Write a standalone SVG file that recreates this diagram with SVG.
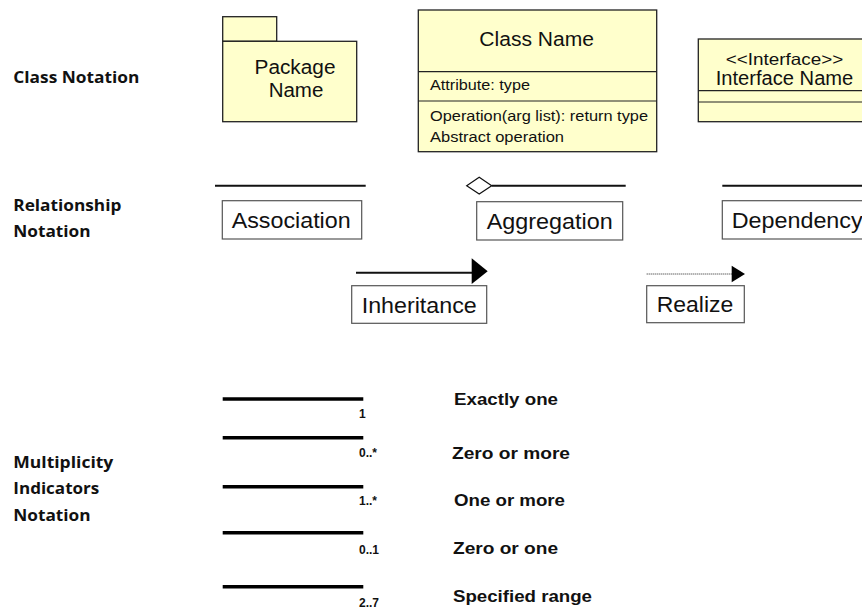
<svg xmlns="http://www.w3.org/2000/svg" width="862" height="609" viewBox="0 0 862 609">
<style>
.uml{fill:#FFFFCC;stroke:#222;stroke-width:1.3}
.div{stroke:#222;stroke-width:1.2}
.lbl{fill:#fff;stroke:#555;stroke-width:1.2}
.t{font-family:"Liberation Sans",Arial,sans-serif;fill:#111}
.c{text-anchor:middle}
.sec{font-family:"Open Sans","Liberation Sans",sans-serif;font-weight:bold;font-size:16px;fill:#111}
.b{font-family:"Liberation Sans",Arial,sans-serif;font-weight:bold;fill:#111}
.line{stroke:#111;stroke-width:2;fill:none}
.thick{stroke:#000;stroke-width:3.5}
.head{fill:#000}
</style>
<rect width="862" height="609" fill="#fff"/>

<g id="section-labels">
<text class="sec" x="13.3" y="82.7" textLength="126" lengthAdjust="spacingAndGlyphs">Class Notation</text>
<text class="sec" x="13.3" y="211" textLength="108" lengthAdjust="spacingAndGlyphs">Relationship</text>
<text class="sec" x="13.3" y="237" textLength="77.3" lengthAdjust="spacingAndGlyphs">Notation</text>
<text class="sec" x="13.3" y="468.3" textLength="100" lengthAdjust="spacingAndGlyphs">Multiplicity</text>
<text class="sec" x="13.3" y="494.3" textLength="86" lengthAdjust="spacingAndGlyphs">Indicators</text>
<text class="sec" x="13.3" y="521" textLength="77.3" lengthAdjust="spacingAndGlyphs">Notation</text>
</g>

<g id="package">
<rect class="uml" x="222.7" y="16.7" width="54" height="24.6"/>
<rect class="uml" x="222.7" y="41.3" width="134" height="80.4"/>
<text class="t c" x="295" y="74" font-size="20" textLength="81" lengthAdjust="spacingAndGlyphs">Package</text>
<text class="t c" x="296" y="97" font-size="20" textLength="54.7" lengthAdjust="spacingAndGlyphs">Name</text>
</g>

<g id="class">
<rect class="uml" x="418.3" y="10" width="238.4" height="141.7"/>
<line class="div" x1="418.3" y1="71.7" x2="656.7" y2="71.7"/>
<line class="div" x1="418.3" y1="101" x2="656.7" y2="101"/>
<text class="t c" x="536.7" y="46" font-size="20" textLength="114.7" lengthAdjust="spacingAndGlyphs">Class Name</text>
<text class="t" x="430" y="89.5" font-size="15.5" textLength="100" lengthAdjust="spacingAndGlyphs">Attribute: type</text>
<text class="t" x="430" y="121" font-size="15.5" textLength="218" lengthAdjust="spacingAndGlyphs">Operation(arg list): return type</text>
<text class="t" x="430" y="142" font-size="15.5" textLength="134" lengthAdjust="spacingAndGlyphs">Abstract operation</text>
</g>

<g id="interface">
<rect class="uml" x="698.3" y="39" width="180" height="82.7"/>
<line class="div" x1="698.3" y1="90.7" x2="878" y2="90.7"/>
<line class="div" x1="698.3" y1="102" x2="878" y2="102"/>
<text class="t c" x="784.5" y="65" font-size="16.5" textLength="117.7" lengthAdjust="spacingAndGlyphs">&lt;&lt;Interface&gt;&gt;</text>
<text class="t c" x="784.5" y="84.5" font-size="19.5" textLength="137.6" lengthAdjust="spacingAndGlyphs">Interface Name</text>
</g>

<g id="connectors">
<line class="line" x1="215" y1="185.7" x2="365.7" y2="185.7"/>
<polygon points="466.7,185.7 479.2,177.3 491.7,185.7 479.2,194" fill="#fff" stroke="#111" stroke-width="1.2"/>
<line class="line" x1="491.7" y1="185.7" x2="625.7" y2="185.7"/>
<line class="line" x1="722.3" y1="185.7" x2="870" y2="185.7"/>
<line class="line" x1="356" y1="272.7" x2="472" y2="272.7"/>
<polygon class="head" points="471.7,258.3 487.7,271.2 471.7,284"/>
<line x1="646.7" y1="274" x2="732" y2="274" stroke="#222" stroke-width="1" stroke-dasharray="1,1"/>
<polygon class="head" points="731.7,265.7 745,274 731.7,282.3"/>
</g>

<g id="association">
<rect class="lbl" x="222.3" y="200.7" width="139.4" height="38.3"/>
<text class="t c" x="291.2" y="228" font-size="22" textLength="119" lengthAdjust="spacingAndGlyphs">Association</text>
</g>
<g id="aggregation">
<rect class="lbl" x="476.7" y="201.7" width="146" height="38.3"/>
<text class="t c" x="549.7" y="229" font-size="22" textLength="126" lengthAdjust="spacingAndGlyphs">Aggregation</text>
</g>
<g id="dependency">
<rect class="lbl" x="722.3" y="200.7" width="160" height="38.3"/>
<text class="t" x="731.7" y="228" font-size="22" textLength="131" lengthAdjust="spacingAndGlyphs">Dependency</text>
</g>
<g id="inheritance">
<rect class="lbl" x="351.7" y="285.7" width="135" height="37.6"/>
<text class="t c" x="419.2" y="312.8" font-size="22" textLength="115" lengthAdjust="spacingAndGlyphs">Inheritance</text>
</g>
<g id="realize">
<rect class="lbl" x="646.7" y="285.7" width="97.6" height="37"/>
<text class="t c" x="695" y="312.3" font-size="22" textLength="76.6" lengthAdjust="spacingAndGlyphs">Realize</text>
</g>

<g id="multiplicity">
<line class="thick" x1="222.7" y1="399" x2="363.3" y2="399"/>
<line class="thick" x1="222.7" y1="437.7" x2="363.3" y2="437.7"/>
<line class="thick" x1="222.7" y1="486.7" x2="363.3" y2="486.7"/>
<line class="thick" x1="222.7" y1="532.7" x2="363.3" y2="532.7"/>
<line class="thick" x1="222.7" y1="586.7" x2="363.3" y2="586.7"/>
<text class="b" x="359" y="418.3" font-size="12">1</text>
<text class="b" x="359" y="457.3" font-size="12">0..*</text>
<text class="b" x="359" y="505" font-size="12">1..*</text>
<text class="b" x="359" y="554" font-size="12">0..1</text>
<text class="b" x="359" y="607" font-size="12">2..7</text>
<text class="b" x="454" y="404.5" font-size="16" textLength="104" lengthAdjust="spacingAndGlyphs">Exactly one</text>
<text class="b" x="452" y="458.5" font-size="16" textLength="118" lengthAdjust="spacingAndGlyphs">Zero or more</text>
<text class="b" x="454" y="505.5" font-size="16" textLength="111" lengthAdjust="spacingAndGlyphs">One or more</text>
<text class="b" x="453" y="553.5" font-size="16" textLength="105" lengthAdjust="spacingAndGlyphs">Zero or one</text>
<text class="b" x="453" y="601.5" font-size="16" textLength="139" lengthAdjust="spacingAndGlyphs">Specified range</text>
</g>
</svg>
